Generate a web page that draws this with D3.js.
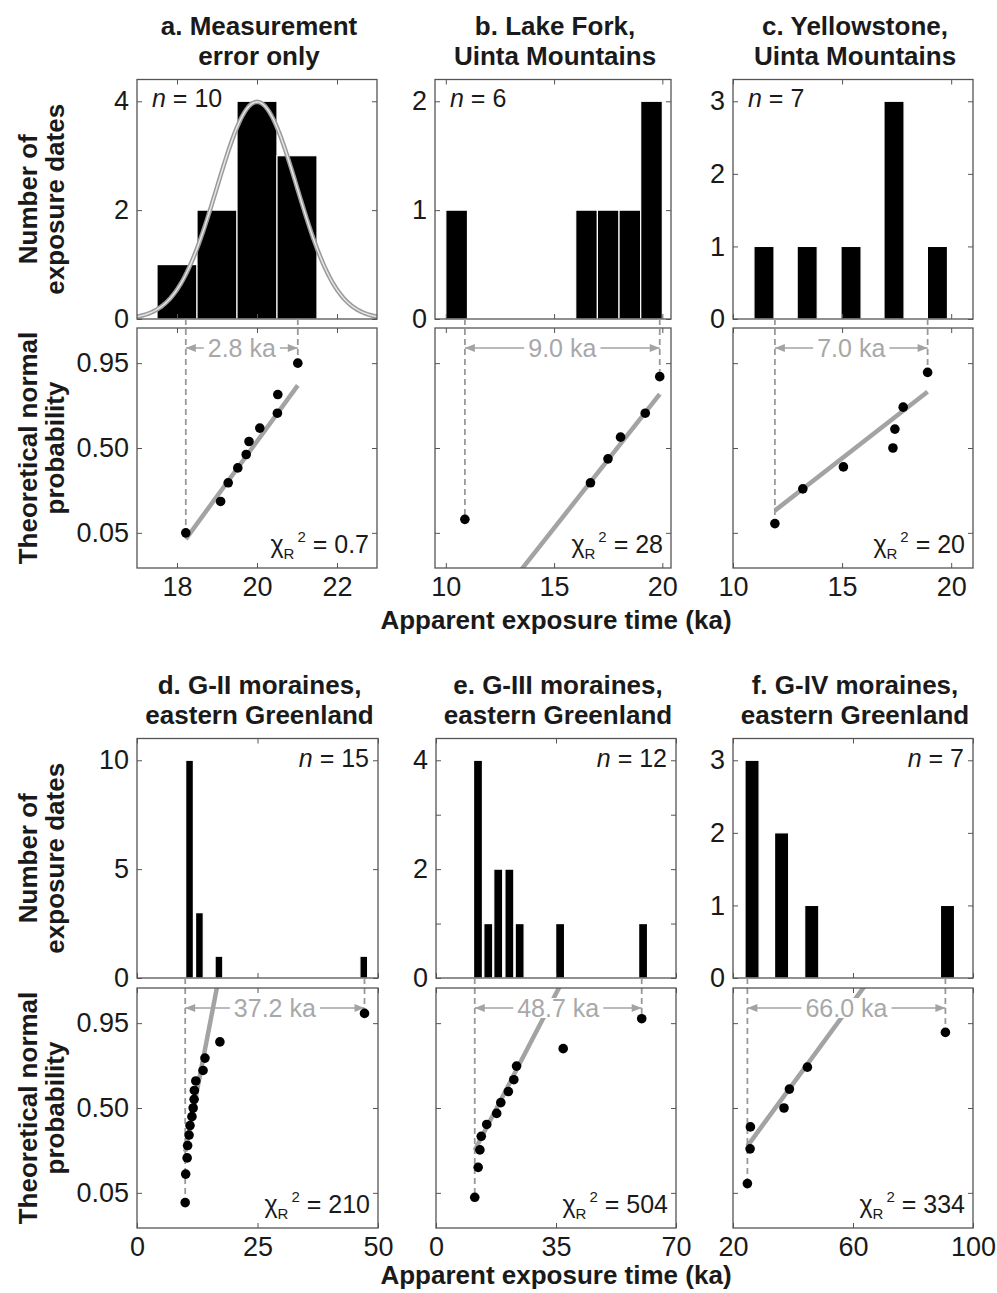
<!DOCTYPE html>
<html>
<head>
<meta charset="utf-8">
<script src="https://cdn.jsdelivr.net/npm/d3@7"></script>
<style>
body { margin: 0; background: #fff; }
svg { display: block; }
text { font-family: "Liberation Sans", Arial, Helvetica, sans-serif; }
</style>
</head>
<body>
<svg width="997" height="1293"></svg>
<script>
// ---- data ----
const titles = [
    ["a. Measurement", "error only"],
    ["b. Lake Fork,", "Uinta Mountains"],
    ["c. Yellowstone,", "Uinta Mountains"],
    ["d. G-II moraines,", "eastern Greenland"],
    ["e. G-III moraines,", "eastern Greenland"],
    ["f. G-IV moraines,", "eastern Greenland"]
];

// apparent exposure ages (ka), sorted
const agesA = [18.22, 19.09, 19.28, 19.52, 19.73, 19.80, 20.07, 20.51, 20.52, 21.02];
const agesB = [10.88, 16.68, 17.49, 18.07, 19.21, 19.88];
const agesC = [11.92, 13.2, 15.06, 17.33, 17.42, 17.8, 18.92];
const agesD = [10.0, 10.1, 10.4, 10.5, 10.8, 11.0, 11.4, 11.65, 11.85, 11.9, 12.2, 13.7, 14.1, 17.2, 47.2];
const agesE = [11.3, 12.3, 12.8, 13.2, 14.8, 17.7, 18.9, 21.1, 22.7, 23.5, 37.1, 60.0];
const agesF = [24.8, 25.7, 25.8, 37.0, 38.8, 44.8, 90.8];

// histogram bins: centres, counts, bar width (ka)
const binsA = [18, 19, 20, 21],                        countsA = [1, 2, 4, 3],             barA = 1;
const binsB = [10.5, 16.5, 17.5, 18.5, 19.5],          countsB = [1, 1, 1, 1, 2],          barB = 1;
const binsC = [11.42, 13.4, 15.41, 17.38, 19.37],      countsC = [1, 1, 1, 3, 1],          barC = 0.92;
const binsD = [10.9, 12.95, 17.0, 47.05],              countsD = [10, 3, 1, 1],            barD = 1.6;
const binsE = [12.25, 15.25, 18.15, 21.4, 24.4, 36.2, 60.4], countsE = [4, 1, 2, 2, 1, 1, 1], barE = 2.6;
const binsF = [26.35, 36.2, 46.25, 91.5],              countsF = [3, 2, 1, 1],             barF = 4.7;

// fitted normal line on probability plot (mean, sd in ka)
const fitMean = [19.88, 17.92, 15.61, 11.75, 17.7, 34.1];
const fitSd   = [0.94, 1.88, 3.04, 2.07, 7.8, 12.6];
const chiSq   = ["0.7", "28", "20", "210", "504", "334"];

// theoretical curve in panel a
const gaussMean = 20, gaussSd = 1;

const xDomains = [[17, 23], [9.5, 20.4], [10, 21], [0, 50], [0, 70], [20, 100]];
const xTicks = [[18, 20, 22], [10, 15, 20], [10, 15, 20], [0, 25, 50], [0, 35, 70], [20, 60, 100]];
const countTicks = [[0, 2, 4], [0, 1, 2], [0, 1, 2, 3], [0, 5, 10], [0, 1, 2, 3, 4], [0, 1, 2, 3]];
const countLabels = [[0, 2, 4], [0, 1, 2], [0, 1, 2, 3], [0, 5, 10], [0, 2, 4], [0, 1, 2, 3]];
const probTicks = [0.05, 0.50, 0.95];

// ---- layout ----
const layout = [
    {x0: 137, x1: 377, ht: 79.5, hb: 319, pt: 328, pb: 568},
    {x0: 435, x1: 671, ht: 79.5, hb: 319, pt: 328, pb: 568},
    {x0: 733, x1: 973, ht: 79.5, hb: 319, pt: 328, pb: 568},
    {x0: 137, x1: 378, ht: 738.5, hb: 978, pt: 988, pb: 1228},
    {x0: 436, x1: 676, ht: 738.5, hb: 978, pt: 988, pb: 1228},
    {x0: 733, x1: 973, ht: 738.5, hb: 978, pt: 988, pb: 1228}
];

const ages = [agesA, agesB, agesC, agesD, agesE, agesF];
const bins = [binsA, binsB, binsC, binsD, binsE, binsF];
const counts = [countsA, countsB, countsC, countsD, countsE, countsF];
const barW = [barA, barB, barC, barD, barE, barF];

const frameColor = "#555";
const greyLine = "#a3a3a3";
const textColor = "#1a1a1a";
const tickFont = 27;

// inverse normal CDF (Acklam)
function probit(p) {
    const a = [-3.969683028665376e+01, 2.209460984245205e+02, -2.759285104469687e+02, 1.383577518672690e+02, -3.066479806614716e+01, 2.506628277459239e+00];
    const b = [-5.447609879822406e+01, 1.615858368580409e+02, -1.556989798598866e+02, 6.680131188771972e+01, -1.328068155288572e+01];
    const c = [-7.784894002430293e-03, -3.223964580411365e-01, -2.400758277161838e+00, -2.549732539343734e+00, 4.374664141464968e+00, 2.938163982698783e+00];
    const d = [7.784695709041462e-03, 3.224671290700398e-01, 2.445134137142996e+00, 3.754408661907416e+00];
    const pl = 0.02425;
    if (p < pl) {
        const q = Math.sqrt(-2 * Math.log(p));
        return (((((c[0]*q+c[1])*q+c[2])*q+c[3])*q+c[4])*q+c[5]) / ((((d[0]*q+d[1])*q+d[2])*q+d[3])*q+1);
    }
    if (p > 1 - pl) {
        const q = Math.sqrt(-2 * Math.log(1 - p));
        return -(((((c[0]*q+c[1])*q+c[2])*q+c[3])*q+c[4])*q+c[5]) / ((((d[0]*q+d[1])*q+d[2])*q+d[3])*q+1);
    }
    const q = p - 0.5, r = q * q;
    return (((((a[0]*r+a[1])*r+a[2])*r+a[3])*r+a[4])*r+a[5])*q / (((((b[0]*r+b[1])*r+b[2])*r+b[3])*r+b[4])*r+1);
}

const svg = d3.select("svg");
svg.append("rect").attr("width", 997).attr("height", 1293).attr("fill", "#fff");
const defs = svg.append("defs");
defs.append("marker")
    .attr("id", "arr")
    .attr("viewBox", "0 0 10 8")
    .attr("refX", 10).attr("refY", 4)
    .attr("markerWidth", 11).attr("markerHeight", 8)
    .attr("markerUnits", "userSpaceOnUse")
    .attr("orient", "auto-start-reverse")
    .append("path").attr("d", "M0,0L10,4L0,8Z").attr("fill", greyLine);

function styleAxis(g) {
    g.select(".domain").remove();
    g.attr("font-family", null).attr("font-size", null);
    g.selectAll(".tick line").attr("stroke", frameColor).attr("stroke-width", 1);
    g.selectAll(".tick text").attr("font-size", tickFont).attr("fill", textColor);
}

const zMax = probit(0.99);

ages.forEach((vals, i) => {
    const L = layout[i];
    const n = vals.length;
    const g = svg.append("g");

    const x = d3.scaleLinear().domain(xDomains[i]).range([L.x0, L.x1]);
    const yc = d3.scaleLinear().domain([0, d3.max(counts[i]) * 1.1]).range([L.hb, L.ht]);
    const yp = d3.scaleLinear().domain([-zMax, zMax]).range([L.pb, L.pt]);

    defs.append("clipPath").attr("id", "ch" + i).append("rect")
        .attr("x", L.x0).attr("y", L.ht).attr("width", L.x1 - L.x0).attr("height", L.hb - L.ht);
    defs.append("clipPath").attr("id", "cp" + i).append("rect")
        .attr("x", L.x0).attr("y", L.pt).attr("width", L.x1 - L.x0).attr("height", L.pb - L.pt);

    // ---- histogram ----
    const hg = g.append("g").attr("clip-path", `url(#ch${i})`);
    hg.selectAll("rect")
        .data(bins[i].map((c, k) => ({c: c, n: counts[i][k]})))
        .join("rect")
        .attr("x", d => x(d.c - barW[i] / 2))
        .attr("width", d => x(d.c + barW[i] / 2) - x(d.c - barW[i] / 2))
        .attr("y", d => yc(d.n))
        .attr("height", d => L.hb - yc(d.n))
        .attr("fill", "#000")
        .attr("stroke", "#fff")
        .attr("stroke-width", 1.2);

    if (i === 0) {
        const xs = d3.range(xDomains[0][0], xDomains[0][1] + 0.001, 0.05);
        const pdf = v => n * barA * Math.exp(-0.5 * ((v - gaussMean) / gaussSd) ** 2) / (gaussSd * Math.sqrt(2 * Math.PI));
        const line = d3.line().x(v => x(v)).y(v => yc(pdf(v)));
        hg.append("path").attr("d", line(xs)).attr("fill", "none").attr("stroke", "#9a9a9a").attr("stroke-width", 4.5);
        hg.append("path").attr("d", line(xs)).attr("fill", "none").attr("stroke", "#e6e6e6").attr("stroke-width", 1.5);
    }

    g.append("g").attr("transform", `translate(0,${L.hb})`)
        .call(d3.axisBottom(x).tickValues(xTicks[i]).tickSize(-5).tickFormat("")).call(styleAxis);
    g.append("g").attr("transform", `translate(0,${L.ht})`)
        .call(d3.axisTop(x).tickValues(xTicks[i]).tickSize(-5).tickFormat("")).call(styleAxis);
    g.append("g").attr("transform", `translate(${L.x0},0)`)
        .call(d3.axisLeft(yc).tickValues(countTicks[i]).tickSize(-5).tickPadding(8)
            .tickFormat(d => countLabels[i].includes(d) ? d : "")).call(styleAxis);
    g.append("g").attr("transform", `translate(${L.x1},0)`)
        .call(d3.axisRight(yc).tickValues(countTicks[i]).tickSize(-5).tickFormat("")).call(styleAxis);
    g.append("rect").attr("x", L.x0).attr("y", L.ht).attr("width", L.x1 - L.x0).attr("height", L.hb - L.ht)
        .attr("fill", "none").attr("stroke", frameColor).attr("stroke-width", 1.3);

    // n label
    const nt = g.append("text").attr("font-size", 25).attr("fill", textColor);
    if (i < 3) nt.attr("x", L.x0 + 15).attr("y", L.ht + 27);
    else nt.attr("x", L.x1 - 9).attr("y", L.ht + 28).attr("text-anchor", "end");
    nt.append("tspan").attr("font-style", "italic").text("n");
    nt.append("tspan").text(" = " + n);

    // ---- probability plot ----
    const pos = vals.map((v, k) => ({v: v, z: probit((k + 0.5) / n)}));
    const lo = pos[0], hi = pos[n - 1];

    g.append("g").attr("transform", `translate(0,${L.pb})`)
        .call(d3.axisBottom(x).tickValues(xTicks[i]).tickSize(-5).tickPadding(9).tickFormat(d3.format("d"))).call(styleAxis);
    g.append("g").attr("transform", `translate(0,${L.pt})`)
        .call(d3.axisTop(x).tickValues(xTicks[i]).tickSize(-5).tickFormat("")).call(styleAxis);
    g.append("g").attr("transform", `translate(${L.x0},0)`)
        .call(d3.axisLeft(yp).tickValues(probTicks.map(probit)).tickSize(-5).tickPadding(8)
            .tickFormat((d, k) => (i % 3 === 0) ? d3.format(".2f")(probTicks[k]) : "")).call(styleAxis);
    g.append("g").attr("transform", `translate(${L.x1},0)`)
        .call(d3.axisRight(yp).tickValues(probTicks.map(probit)).tickSize(-5).tickFormat("")).call(styleAxis);

    const pg = g.append("g").attr("clip-path", `url(#cp${i})`);
    pg.append("line")
        .attr("x1", x(lo.v)).attr("y1", yp((lo.v - fitMean[i]) / fitSd[i]))
        .attr("x2", x(hi.v)).attr("y2", yp((hi.v - fitMean[i]) / fitSd[i]))
        .attr("stroke", greyLine).attr("stroke-width", 4.5);

    // dashed guides from histogram axis down to the extreme points
    [lo, hi].forEach(p => {
        g.append("line")
            .attr("x1", x(p.v)).attr("x2", x(p.v))
            .attr("y1", L.hb).attr("y2", yp(p.z))
            .attr("stroke", "#999").attr("stroke-width", 1.8).attr("stroke-dasharray", "6,4");
    });

    // span arrow
    const ay = L.pt + 20;
    g.append("line")
        .attr("x1", x(lo.v)).attr("x2", x(hi.v)).attr("y1", ay).attr("y2", ay)
        .attr("stroke", greyLine).attr("stroke-width", 1.5)
        .attr("marker-start", "url(#arr)").attr("marker-end", "url(#arr)");
    const bg = g.append("rect").attr("fill", "#fff");
    const st = g.append("text")
        .attr("x", (x(lo.v) + x(hi.v)) / 2).attr("y", ay + 9)
        .attr("text-anchor", "middle").attr("font-size", 25).attr("fill", "#a8a8a8")
        .text((hi.v - lo.v).toFixed(1) + " ka");
    const bb = st.node().getBBox();
    bg.attr("x", bb.x - 4).attr("y", ay - 10).attr("width", bb.width + 8).attr("height", 20);

    g.append("g").selectAll("circle")
        .data(pos)
        .join("circle")
        .attr("cx", d => x(d.v))
        .attr("cy", d => yp(d.z))
        .attr("r", 4.8)
        .attr("fill", "#000");

    g.append("rect").attr("x", L.x0).attr("y", L.pt).attr("width", L.x1 - L.x0).attr("height", L.pb - L.pt)
        .attr("fill", "none").attr("stroke", frameColor).attr("stroke-width", 1.3);

    // reduced chi-square
    const ct = g.append("text").attr("x", L.x1 - 8).attr("y", L.pb - 15)
        .attr("text-anchor", "end").attr("font-size", 25).attr("fill", textColor);
    ct.append("tspan").text("χ");
    ct.append("tspan").attr("font-size", 15).attr("dy", 6).text("R");
    ct.append("tspan").attr("font-size", 15).attr("dy", -17).attr("dx", 3).text("2");
    ct.append("tspan").attr("dy", 11).text(" = " + chiSq[i]);

    // title
    const tt = svg.append("text").attr("text-anchor", "middle").attr("font-size", 26)
        .attr("font-weight", "bold").attr("fill", textColor);
    const tx = (L.x0 + L.x1) / 2 + 2, ty = i < 3 ? 35 : 694;
    tt.append("tspan").attr("x", tx).attr("y", ty).text(titles[i][0]);
    tt.append("tspan").attr("x", tx).attr("y", ty + 30).text(titles[i][1]);
});

// axis titles
function yTitle(lines, cy) {
    const t = svg.append("text").attr("text-anchor", "middle").attr("font-size", 26)
        .attr("font-weight", "bold").attr("fill", textColor)
        .attr("transform", `rotate(-90)`);
    t.append("tspan").attr("x", -cy).attr("y", 37).text(lines[0]);
    t.append("tspan").attr("x", -cy).attr("y", 64).text(lines[1]);
}
[0, 3].forEach(i => {
    const L = layout[i];
    yTitle(["Number of", "exposure dates"], (L.ht + L.hb) / 2);
    yTitle(["Theoretical normal", "probability"], (L.pt + L.pb) / 2);
});
[629, 1284].forEach(y => {
    svg.append("text").attr("x", 556).attr("y", y).attr("text-anchor", "middle")
        .attr("font-size", 26).attr("font-weight", "bold").attr("fill", textColor)
        .text("Apparent exposure time (ka)");
});
</script>
</body>
</html>
